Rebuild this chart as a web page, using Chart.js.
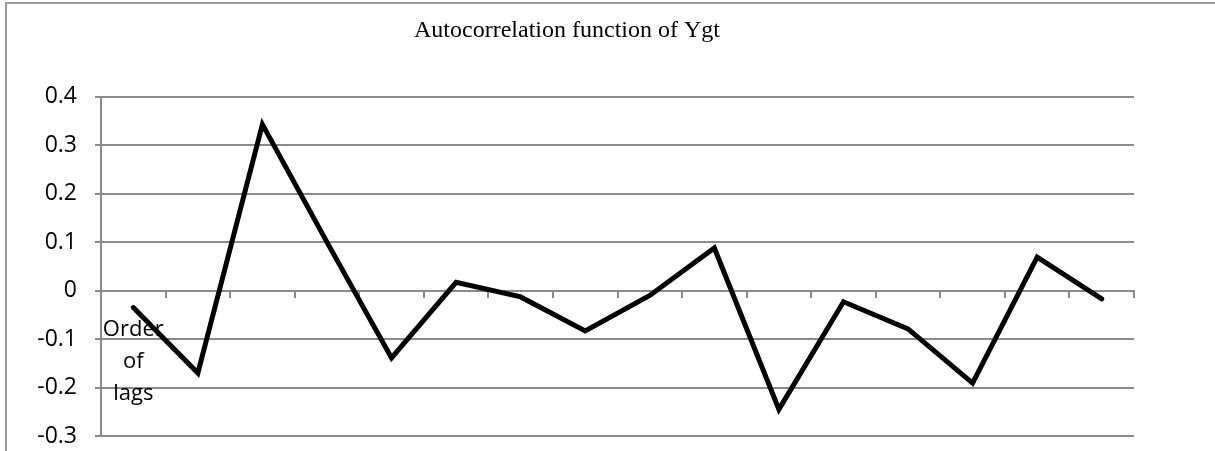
<!DOCTYPE html>
<html>
<head>
<meta charset="utf-8">
<script src="https://cdn.jsdelivr.net/npm/chart.js@4"></script>
<style>
  html, body { margin: 0; padding: 0; background: #fff; overflow: hidden; }
  #wrap { position: relative; width: 1215px; height: 451px; }
  #frame {
    position: absolute; left: 5px; top: 2px; width: 2000px; height: 1000px;
    border-left: 2px solid #9a9a9a; border-top: 2px solid #9a9a9a;
  }
  #acf { position: absolute; left: 0; top: 0; }
</style>
</head>
<body>
<div id="wrap">
  <div id="frame"></div>
  <canvas id="acf" width="1215" height="451"></canvas>
</div>
<script>
// lags 1..16, only the first category carries a label
const lagLabels = [['Order', 'of', 'lags'], '', '', '', '', '', '', '', '', '', '', '', '', '', '', ''];
const acfValues = [-0.035, -0.17, 0.343, 0.10, -0.139, 0.017, -0.013, -0.083,
                   -0.010, 0.088, -0.245, -0.023, -0.079, -0.191, 0.069, -0.017];
const yTicks = [-0.3, -0.2, -0.1, 0, 0.1, 0.2, 0.3, 0.4];

const gridGray = '#8a8a8a';

const ctx = document.getElementById('acf').getContext('2d');
new Chart(ctx, {
  type: 'line',
  data: {
    labels: lagLabels,
    datasets: [{
      data: acfValues,
      borderColor: '#000',
      borderWidth: 5,
      borderCapStyle: 'round',
      borderJoinStyle: 'miter',
      tension: 0,
      pointRadius: 0,
      fill: false,
    }],
  },
  options: {
    responsive: false,
    devicePixelRatio: 1,
    animation: false,
    layout: { padding: { left: 0, right: 81, top: 0, bottom: 15 } },
    plugins: {
      legend: { display: false },
      tooltip: { enabled: false },
      title: {
        display: true,
        text: 'Autocorrelation function of Ygt',
        color: '#000',
        font: { family: '"Liberation Serif", "Times New Roman", serif', size: 24, weight: 'normal' },
        padding: { top: 16, bottom: 52 },
      },
    },
    scales: {
      x: {
        position: { y: 0 },
        offset: true,
        // axis sits on y = 0, so it should not take room at the bottom
        afterFit: (scale) => { scale.paddingLeft = 0; scale.paddingRight = 0; scale.height = 0; },
        grid: {
          offset: true,
          drawOnChartArea: false,
          drawTicks: true,
          tickLength: 6,
          color: gridGray,
          lineWidth: 2,
        },
        border: { display: true, color: gridGray, width: 2 },
        ticks: {
          color: '#000',
          autoSkip: false,
          maxRotation: 0,
          padding: 17,
          font: { family: '"Open Sans", sans-serif', size: 22, lineHeight: 1.45 },
        },
      },
      y: {
        min: -0.3,
        max: 0.4,
        afterBuildTicks: (scale) => { scale.ticks = yTicks.map(v => ({ value: v })); },
        afterFit: (scale) => { scale.width = 101; scale.paddingTop = 0; scale.paddingBottom = 0; },
        grid: {
          color: gridGray,
          lineWidth: 2,
          drawTicks: true,
          tickLength: 6,
        },
        border: { display: true, color: gridGray, width: 2 },
        ticks: {
          color: '#000',
          padding: 18,
          font: { family: '"Open Sans", sans-serif', size: 23 },
          callback: (v) => String(Number(v.toFixed(1))),
        },
      },
    },
  },
});
</script>
</body>
</html>
